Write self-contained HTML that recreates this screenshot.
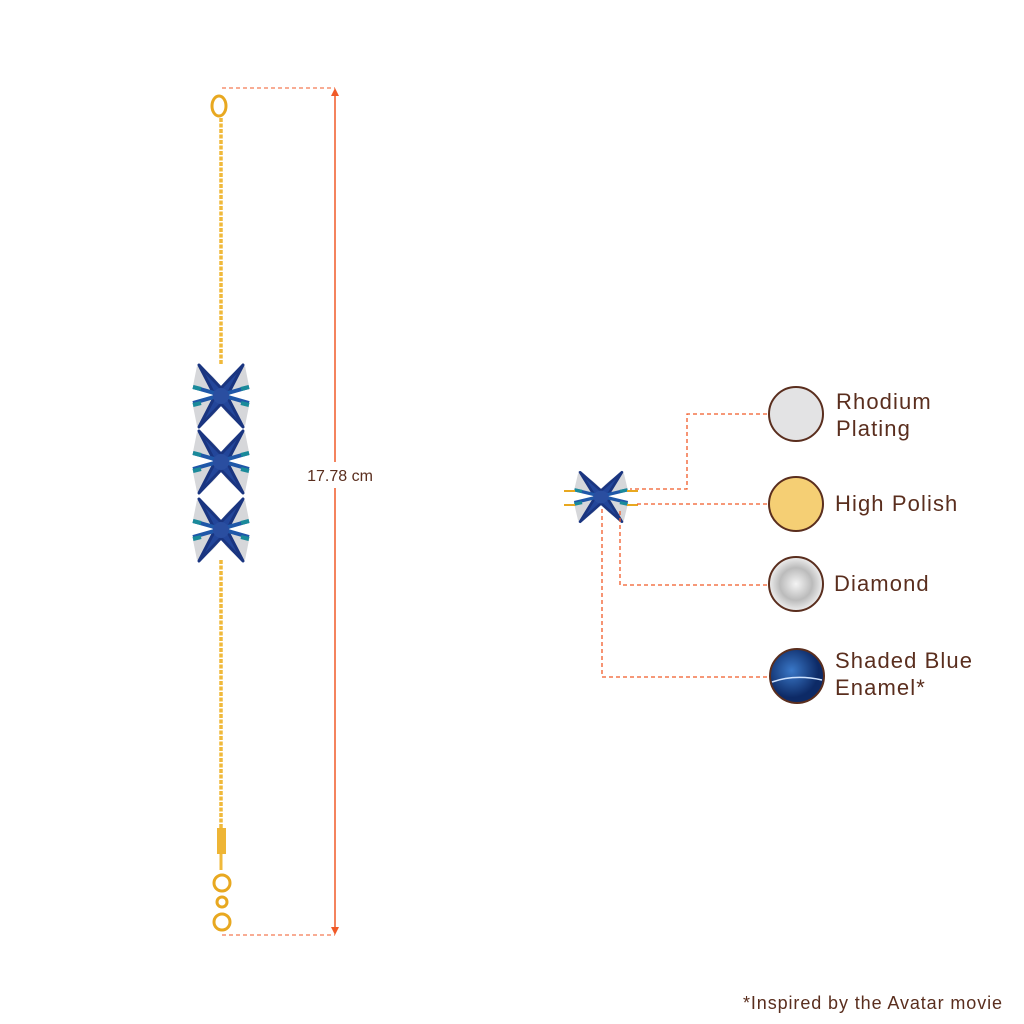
<!DOCTYPE html>
<html><head><style>
body{margin:0;width:1024px;height:1024px;background:#fff;position:relative;font-family:"Liberation Sans",sans-serif;overflow:hidden}
.t{position:absolute;color:#5a2e1e;font-size:22px;line-height:27px;letter-spacing:1.1px}
</style></head><body>
<svg width="1024" height="1024" style="position:absolute;left:0;top:0">
<defs>
<g id="fl">
<path d="M-24,-30 Q-10,-24 -2,-12 L-10,-2 Q-20,-6 -28,-10 Z" fill="#d6d7da"/>
<path d="M24,-30 Q10,-24 2,-12 L10,-2 Q20,-6 28,-10 Z" fill="#d6d7da"/>
<path d="M-24,30 Q-10,24 -2,12 L-10,2 Q-20,6 -28,10 Z" fill="#d6d7da"/>
<path d="M24,30 Q10,24 2,12 L10,2 Q20,6 28,10 Z" fill="#d6d7da"/>
<path d="M-22,-31 L0,-8 L22,-31 L6,0 L22,31 L0,8 L-22,31 L-6,0 Z" fill="#23469a" stroke="#1a3580" stroke-width="3" stroke-linejoin="round"/>
<path d="M-28,-9 L0,-1 L-28,7 M28,-9 L0,-1 L28,7" stroke="#1f57a8" stroke-width="4" fill="none"/>
<path d="M-28,-9 L-20,-7 M28,-9 L20,-7 M-28,9 L-20,7 M28,9 L20,7" stroke="#1a8a9a" stroke-width="4"/>
<circle r="8" fill="#2a4ea0"/>
</g>
</defs>
<line x1="221" y1="118" x2="221" y2="365" stroke="#f0b93a" stroke-width="3.5" stroke-dasharray="4 1.5"/>
<line x1="221" y1="560" x2="221" y2="830" stroke="#f0b93a" stroke-width="3.5" stroke-dasharray="4 1.5"/>
<ellipse cx="219" cy="106" rx="7" ry="10" fill="none" stroke="#e8a820" stroke-width="3"/>
<rect x="217" y="828" width="9" height="26" fill="#eeb535"/>
<line x1="221" y1="854" x2="221" y2="870" stroke="#f0b93a" stroke-width="3"/>
<circle cx="222" cy="883" r="8" fill="none" stroke="#e8a820" stroke-width="3"/>
<circle cx="222" cy="902" r="5" fill="none" stroke="#e8a820" stroke-width="3"/>
<circle cx="222" cy="922" r="8" fill="none" stroke="#e8a820" stroke-width="3"/>
<use href="#fl" transform="translate(221,396)"/>
<use href="#fl" transform="translate(221,462)"/>
<use href="#fl" transform="translate(221,530)"/>
<line x1="222" y1="88" x2="335" y2="88" stroke="#f05a28" stroke-width="1" stroke-dasharray="4 3"/>
<line x1="222" y1="935" x2="335" y2="935" stroke="#f05a28" stroke-width="1" stroke-dasharray="4 3"/>
<line x1="335" y1="92" x2="335" y2="931" stroke="#f05a28" stroke-width="1.5"/>
<path d="M331,96 L335,88 L339,96 Z M331,927 L335,935 L339,927 Z" fill="#f05a28"/>
<rect x="298" y="462" width="84" height="26" fill="#fff"/>
<text x="340" y="481" font-size="16" text-anchor="middle" fill="#5a2e1e" font-family="Liberation Sans">17.78 cm</text>
<g transform="translate(601,497) scale(0.95,0.8)"><use href="#fl"/></g>
<line x1="564" y1="491" x2="575" y2="491" stroke="#e8a820" stroke-width="2"/>
<line x1="564" y1="505" x2="575" y2="505" stroke="#e8a820" stroke-width="2"/>
<line x1="627" y1="491" x2="638" y2="491" stroke="#e8a820" stroke-width="2"/>
<line x1="627" y1="505" x2="638" y2="505" stroke="#e8a820" stroke-width="2"/>
<g fill="none" stroke="#f05a28" stroke-width="1.3" stroke-dasharray="4 3">
<path d="M767,414 H687 V489 H630"/>
<path d="M767,504 H637"/>
<path d="M767,585 H620 V508"/>
<path d="M767,677 H602 V506"/>
</g>
<circle cx="796" cy="414" r="27" fill="#e3e3e4" stroke="#5a2e1e" stroke-width="2"/>
<circle cx="796" cy="504" r="27" fill="#f5cf74" stroke="#5a2e1e" stroke-width="2"/>
<radialGradient id="dg"><stop offset="0" stop-color="#f4f4f4"/><stop offset="0.6" stop-color="#bbb"/><stop offset="1" stop-color="#eee"/></radialGradient>
<circle cx="796" cy="584" r="27" fill="url(#dg)" stroke="#5a2e1e" stroke-width="2"/>
<radialGradient id="bg" cx="0.4" cy="0.4"><stop offset="0" stop-color="#3a78c8"/><stop offset="1" stop-color="#0d2a66"/></radialGradient>
<circle cx="797" cy="676" r="27" fill="url(#bg)" stroke="#5a2e1e" stroke-width="2"/>
<path d="M772,682 Q795,674 822,680" stroke="#cfe3ff" stroke-width="1.5" fill="none"/>
</svg>
<div class="t" style="left:836px;top:388px">Rhodium<br>Plating</div>
<div class="t" style="left:835px;top:490px">High Polish</div>
<div class="t" style="left:834px;top:570px">Diamond</div>
<div class="t" style="left:835px;top:647px">Shaded Blue<br>Enamel*</div>
<div class="t" style="left:743px;top:990px;font-size:18px;letter-spacing:0.9px">*Inspired by the Avatar movie</div>
</body></html>
